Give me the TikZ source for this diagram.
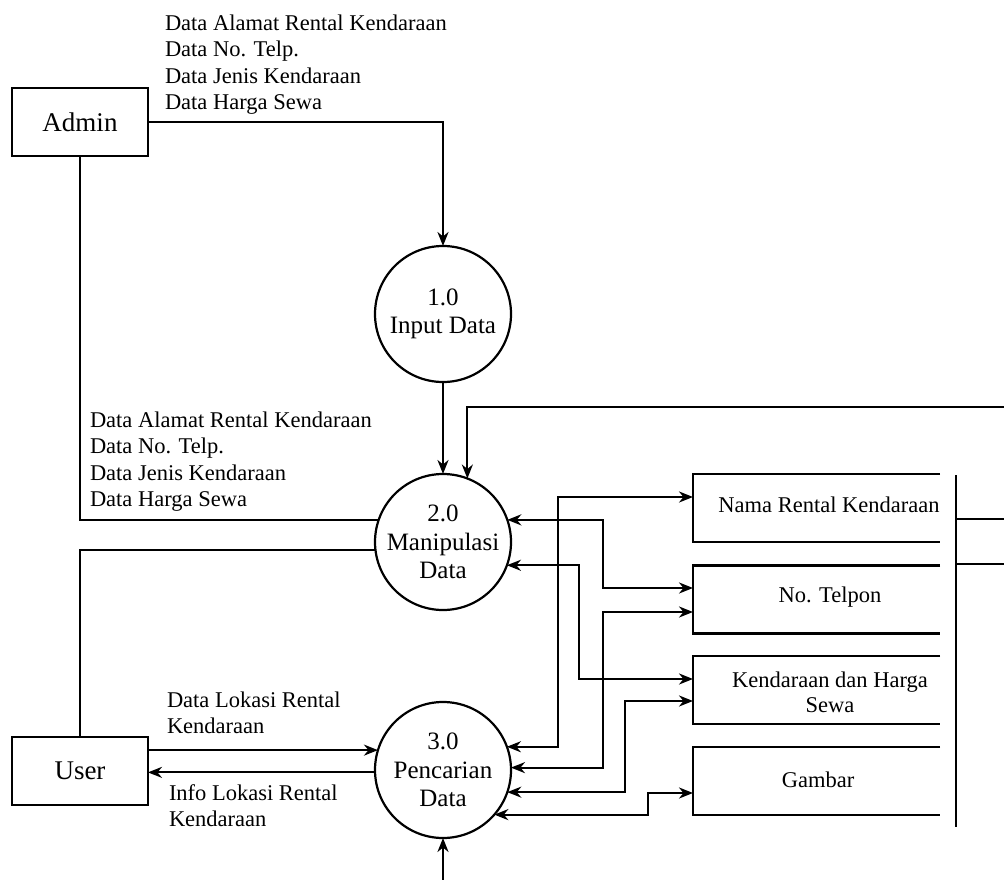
\documentclass[tikz,border=0pt]{standalone}
\usepackage{fontspec}
\setmainfont{Liberation Serif}
\usetikzlibrary{arrows.meta}
\begin{document}
\begin{tikzpicture}[x=1pt,y=-1pt,
  line width=2.2pt,
  >={Stealth[length=14pt,width=11pt,inset=4.5pt]},
  entity/.style={draw, rectangle, minimum width=136pt, minimum height=68pt, inner sep=0pt, outer sep=0pt, font=\fontsize{27}{30}\selectfont},
  proc/.style={draw, circle, minimum size=136pt, inner sep=0pt, outer sep=0pt, align=center, font=\fontsize{25}{28.5}\selectfont},
  lbl/.style={inner sep=0pt, outer sep=0pt, align=left, anchor=north west, font=\fontsize{22.5}{26.2}\selectfont},
  storetext/.style={inner sep=0pt, outer sep=0pt, align=center, anchor=base, font=\fontsize{22.5}{25.5}\selectfont},
  storebox/.style={minimum width=247pt, minimum height=68pt, inner sep=0pt, outer sep=0pt},
  storeline/.style={line width=2.2pt}
]
\useasboundingbox (0,0) rectangle (1004,880);

% entities
\node[entity] (admin) at (80,122) {Admin};
\node[entity] (user) at (80,771) {User};

% processes
\node[proc] (c1) at (443,314) {1.0\\Input Data};
\node[proc] (c2) at (443,542) {2.0\\Manipulasi\\Data};
\node[proc] (c3) at (443,770) {3.0\\Pencarian\\Data};

% data stores
\node[storebox] (s1) at (816.5,508) {};
\node[storebox] (s2) at (816.5,599.5) {};
\node[storebox] (s3) at (816.5,690) {};
\node[storebox] (s4) at (816.5,781) {};
\foreach \s in {s1,s2,s3,s4}{
  \draw[storeline] (\s.north east) -- (\s.north west) -- (\s.south west) -- (\s.south east);
}
\node[storetext] (t1) at (829,512) {Nama Rental Kendaraan};
\node[storetext] (t2) at (830,602) {No. Telpon};
\node[storetext, anchor=north] (t3) at (830,671.5) {Kendaraan dan Harga\\Sewa};
\node[storetext] (t4) at (818,787) {Gambar};

% right bar and its lines leaving the picture
\coordinate (bartop) at (956,475);
\coordinate (barbot) at (956,827);
\draw (bartop) -- (barbot);
\coordinate (r1) at (956,519);
\coordinate (r1e) at (1004,519);
\coordinate (r2) at (956,564);
\coordinate (r2e) at (1004,564);
\draw (r1) -- (r1e);
\draw (r2) -- (r2e);

% labels
\node[lbl] (lab1) at (165,15) {Data Alamat Rental Kendaraan\\Data No. Telp.\\Data Jenis Kendaraan\\Data Harga Sewa};
\node[lbl] (lab2) at (90,412) {Data Alamat Rental Kendaraan\\Data No. Telp.\\Data Jenis Kendaraan\\Data Harga Sewa};
\node[lbl, font=\fontsize{22.5}{26}\selectfont] (lab3) at (167,692) {Data Lokasi Rental\\Kendaraan};
\node[lbl, font=\fontsize{22.5}{26}\selectfont] (lab4) at (169,785) {Info Lokasi Rental\\Kendaraan};

% flows
\draw[->] (admin.east) -| (c1.north);
\draw[->] (c1) -- (c2);
\draw (admin.south) |- (c2.161);
\draw (c2.187) -| (user.north);
\coordinate (topright) at (1004,407);
\draw[->] (topright) -| (c2.69);
\draw[->] (user.east |- c3.163) -- (c3.163);
\draw[->] (c3.182) -- (c3.182 -| user.east);
\coordinate (bottomin) at (443,880);
\draw[->] (bottomin) -- (c3.south);

% trunks
\coordinate (xa) at (558,0);
\coordinate (xb) at (603,0);
\coordinate (xc) at (579,0);
\coordinate (xe) at (625,0);
\coordinate (xf) at (648,0);
\coordinate (sA) at ([yshift=11pt]s1.west);
\coordinate (sB) at ([yshift=11.5pt]s2.west);
\coordinate (sD) at ([yshift=-12.5pt]s2.west);
\coordinate (sC) at ([yshift=11pt]s3.west);
\coordinate (sE) at ([yshift=-11pt]s3.west);
\coordinate (sF) at ([yshift=-12pt]s4.west);

\draw[<->] (c3.20) -| (xa |- sA) -- (sA);
\draw[<->] (c2.19) -| (xb |- sB) -- (sB);
\draw[<->] (c2.-20) -| (xc |- sC) -- (sC);
\draw[<->] (c3.2) -| (xb |- sD) -- (sD);
\draw[<->] (c3.-19) -| (xe |- sE) -- (sE);
\draw[<->] (c3.-41) -| (xf |- sF) -- (sF);
\end{tikzpicture}
\end{document}
